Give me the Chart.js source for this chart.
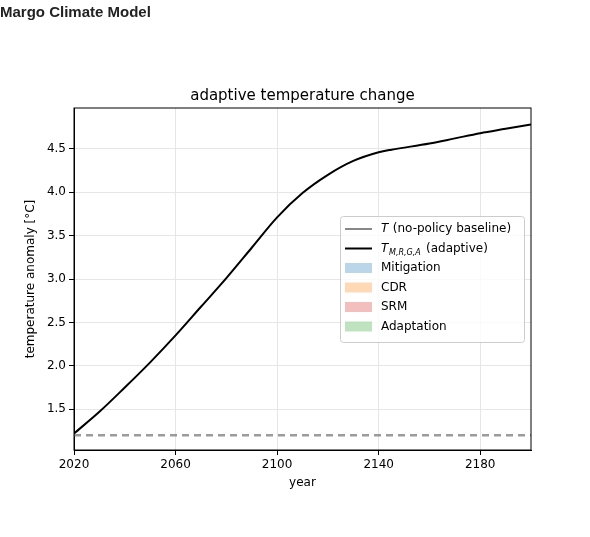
<!DOCTYPE html>
<html><head><meta charset="utf-8">
<script src="https://cdn.jsdelivr.net/npm/chart.js@4/dist/chart.umd.min.js"></script>
<style>
body{margin:0;background:#fff;}
#h{position:absolute;left:0;top:3px;font:bold 15px "Liberation Sans",Arial,sans-serif;color:#222;}
#w{position:absolute;left:0;top:0;width:590px;height:537px;}
</style></head><body>
<div id="w"><canvas id="c" width="590" height="537"></canvas></div>
<div id="h">Margo Climate Model</div>
<script>
const years=[2020,2030,2040,2050,2060,2070,2080,2090,2100,2110,2120,2130,2140,2145,2160,2170,2180,2190,2200];
const adaptive=[1.22,1.47,1.75,2.04,2.35,2.68,3.01,3.36,3.71,3.99,4.20,4.36,4.46,4.49,4.56,4.62,4.68,4.73,4.78];
const baseline=[1.2,1.2];
const baselineYears=[2020,2200];
const xTicks=[2020,2060,2100,2140,2180];
const yTicks=[1.5,2.0,2.5,3.0,3.5,4.0,4.5];
const F='"DejaVu Sans", sans-serif';
const legendItems=[
 {t:'line',c:'#888888',l:'T (no-policy baseline)'},
 {t:'line',c:'#000000',l:'T_M,R,G,A (adaptive)'},
 {t:'box',c:'rgba(31,119,180,0.3)',l:'Mitigation'},
 {t:'box',c:'rgba(255,127,14,0.3)',l:'CDR'},
 {t:'box',c:'rgba(214,39,40,0.3)',l:'SRM'},
 {t:'box',c:'rgba(44,160,44,0.3)',l:'Adaptation'}];
const deco={id:'deco',afterDraw(ch){
 const g=ch.ctx,a=ch.chartArea;g.save();
 g.fillStyle='#000';g.font='15px '+F;g.textAlign='center';g.textBaseline='middle';
 g.fillText('adaptive temperature change',(a.left+a.right)/2,96);
 const x0=340,y0=216,w=184,h=126;
 g.fillStyle='rgba(255,255,255,0.8)';g.strokeStyle='#ccc';g.lineWidth=1;
 g.beginPath();g.roundRect(x0+.5,y0+.5,w,h,3);g.fill();g.stroke();
 g.textAlign='left';g.font='12px '+F;
 legendItems.forEach((it,i)=>{const y=y0+13+i*19.5;
  if(it.t==='line'){g.strokeStyle=it.c;g.lineWidth=2;g.beginPath();g.moveTo(x0+5,y);g.lineTo(x0+32,y);g.stroke();}
  else{g.fillStyle=it.c;g.fillRect(x0+5,y-5,27,10);}
  g.fillStyle='#000';
  if(i===0){g.font='italic 12px '+F;g.fillText('T',x0+41,y);g.font='12px '+F;g.fillText(' (no-policy baseline)',x0+49,y);}
  else if(i===1){g.font='italic 12px '+F;g.fillText('T',x0+41,y);g.font='italic 8px '+F;g.fillText('M,R,G,A',x0+49,y+4);g.font='12px '+F;g.fillText('(adaptive)',x0+86,y);}
  else g.fillText(it.l,x0+41,y);
 });
 g.restore();}};
new Chart(document.getElementById('c'),{type:'line',
 data:{datasets:[
  {data:baselineYears.map((x,i)=>({x,y:baseline[i]})),borderColor:'rgba(130,130,130,0.8)',borderWidth:2.5,borderDash:[7,5],pointRadius:0},
  {data:years.map((x,i)=>({x,y:adaptive[i]})),borderColor:'#000',borderWidth:2,pointRadius:0,cubicInterpolationMode:'monotone'}]},
 options:{responsive:false,animation:false,events:[],
  layout:{padding:{top:108,right:59,bottom:47,left:24}},
  plugins:{legend:{display:false},tooltip:{enabled:false}},
  scales:{
   x:{type:'linear',min:2020,max:2200,
    afterBuildTicks(s){s.ticks=xTicks.map(v=>({value:v}));},
    afterFit(s){s.height=40;},
    grid:{color:'#e6e6e6',tickColor:'#000',tickLength:5},border:{color:'#000'},
    ticks:{color:'#000',font:{family:F,size:12},maxRotation:0,callback:v=>String(v)},
    title:{display:true,text:'year',color:'#000',font:{family:F,size:12},padding:0}},
   y:{min:1.03,max:4.97,
    afterBuildTicks(s){s.ticks=yTicks.map(v=>({value:v}));},
    afterFit(s){s.width=50;},
    grid:{color:'#e6e6e6',tickColor:'#000',tickLength:5},border:{color:'#000'},
    ticks:{color:'#000',font:{family:F,size:12},callback:v=>v.toFixed(1)},
    title:{display:true,text:'temperature anomaly [°C]',color:'#000',font:{family:F,size:12},padding:0}}}},
 plugins:[deco,{id:'frame',afterDraw(ch){const g=ch.ctx,a=ch.chartArea;g.save();g.strokeStyle='#000';g.lineWidth=1;g.strokeRect(a.left,a.top,a.right-a.left,a.bottom-a.top);g.restore();}}]});
</script></body></html>
